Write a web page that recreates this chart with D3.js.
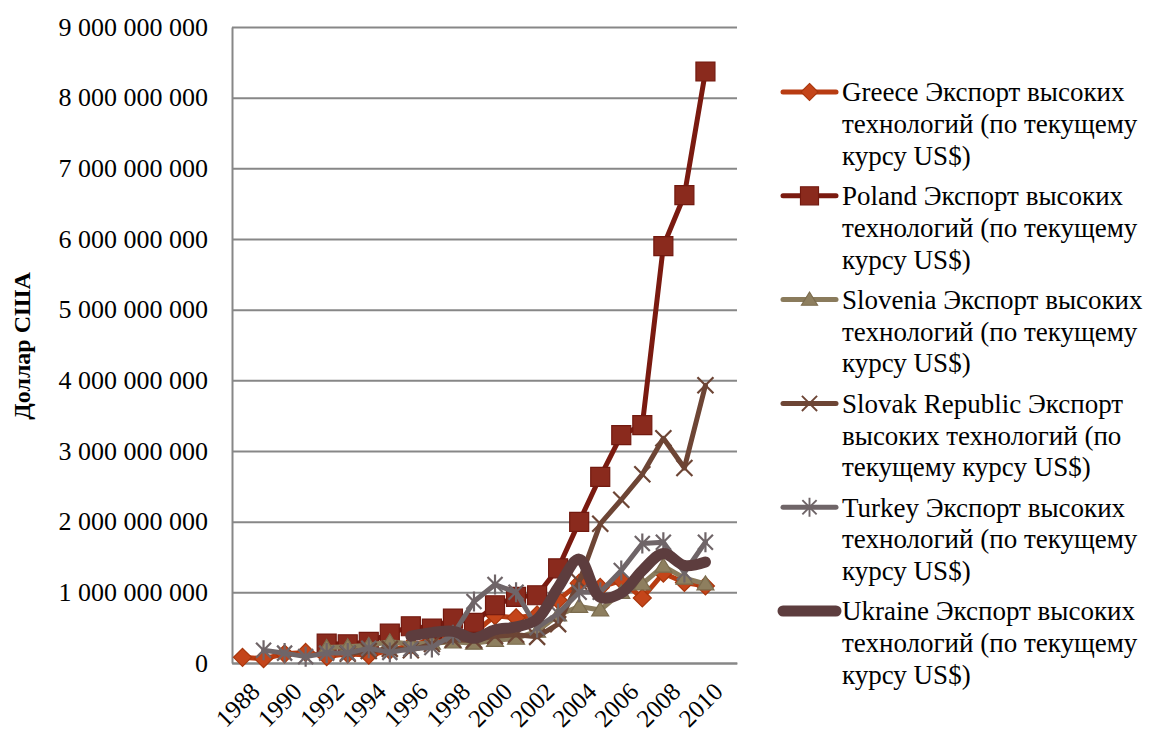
<!DOCTYPE html>
<html><head><meta charset="utf-8">
<script src="https://cdn.jsdelivr.net/npm/d3@7"></script>
<style>
html,body{margin:0;padding:0;background:#fff;}
svg text{font-family:"Liberation Serif","Times New Roman",Tinos,"DejaVu Serif",serif;}
</style></head>
<body><svg id="chart" width="1158" height="735" font-family="Liberation Serif, Times New Roman, serif"></svg>
<script>
const years = d3.range(1988, 2012);
const yTicks = [0,1e9,2e9,3e9,4e9,5e9,6e9,7e9,8e9,9e9];
const xTickLabels = [1988,1990,1992,1994,1996,1998,2000,2002,2004,2006,2008,2010];
const yTitle = "Доллар США";

const greece   = [0.08,0.06,0.13,0.15,0.09,0.13,0.11,0.18,0.25,0.33,0.38,0.42,0.67,0.64,0.68,0.89,1.13,1.07,1.17,0.92,1.27,1.14,1.09,null];
const poland   = [null,null,null,null,0.275,0.265,0.30,0.416,0.52,0.487,0.629,0.567,0.817,0.935,0.959,1.34,1.997,2.635,3.225,3.366,5.90,6.62,8.37,null];
const slovenia = [null,null,null,null,0.22,0.23,0.25,0.30,0.27,0.28,0.30,0.28,0.32,0.35,0.45,0.68,0.80,0.75,1.0,1.12,1.37,1.2,1.12,null];
const slovak   = [null,null,null,null,null,0.13,0.17,0.20,0.18,0.27,0.33,0.32,0.38,0.40,0.37,0.55,1.15,1.97,2.31,2.67,3.18,2.76,3.93,null];
const turkey   = [null,0.18,0.14,0.09,0.14,0.14,0.21,0.15,0.20,0.22,0.40,0.87,1.11,1.0,0.50,0.70,1.0,1.0,1.31,1.69,1.71,1.28,1.71,null];
const ukraine  = [null,null,null,null,null,null,null,null,0.38,0.43,0.45,0.35,0.47,0.51,0.62,1.07,1.47,0.93,0.99,1.31,1.55,1.38,1.43,null];

const seriesNames = ["Greece","Poland","Slovenia","Slovak Republic","Turkey","Ukraine"];
const legendLines = [
  ["Greece Экспорт высоких","технологий (по текущему","курсу US$)"],
  ["Poland Экспорт высоких","технологий (по текущему","курсу US$)"],
  ["Slovenia Экспорт высоких","технологий (по текущему","курсу US$)"],
  ["Slovak Republic Экспорт","высоких технологий (по","текущему курсу US$)"],
  ["Turkey Экспорт высоких","технологий (по текущему","курсу US$)"],
  ["Ukraine Экспорт высоких","технологий (по текущему","курсу US$)"]
];
const seriesValues = [greece, poland, slovenia, slovak, turkey, ukraine];

const FONT = "Liberation Serif, Times New Roman, serif";

const styles = [
  {line:"#B83C12", width:5, marker:"diamond", fill:"#C4451A", stroke:"#A8360C"},
  {line:"#7A1A10", width:5, marker:"square", fill:"#8A2A1D", stroke:"#72190F"},
  {line:"#8A7B5C", width:5, marker:"triangle", fill:"#8E7F5F", stroke:"#7B6C4E"},
  {line:"#6D4535", width:5, marker:"x", fill:"none", stroke:"#6D4535"},
  {line:"#6F6568", width:5, marker:"asterisk", fill:"none", stroke:"#6F6568"},
  {line:"#5D3D3E", width:11, marker:null, fill:"none", stroke:"none", smooth:true}
];

const markerPaths = {
  diamond: "M0,-9L9,0L0,9L-9,0Z",
  square: "M-9.5,-9.5h19v19h-19Z",
  triangle: "M0,-8L8.5,6L-8.5,6Z",
  x: "M-8,-8L8,8M-8,8L8,-8",
  asterisk: "M-7.5,-7.5L7.5,7.5M-7.5,7.5L7.5,-7.5M0,-10L0,10"
};

const svg = d3.select("#chart");
const L = 232, R = 737, T = 27, B = 663;
const x = d3.scaleBand().domain(years).range([L, R]).padding(0);
const cx = yr => x(yr) + x.bandwidth()/2;
const y = d3.scaleLinear().domain([0, 9e9]).range([B, T]);

// gridlines
svg.append("g").attr("transform", `translate(${L},0)`)
  .call(d3.axisLeft(y).tickValues(yTicks).tickSize(-(R-L)).tickFormat(""))
  .call(g => g.select(".domain").remove())
  .call(g => g.selectAll("line").attr("stroke", "#878787").attr("stroke-width", 2));

// y axis labels
const fmt = v => d3.format(",")(v).replace(/,/g, " ");
svg.append("g").attr("transform", `translate(${L},0)`)
  .call(d3.axisLeft(y).tickValues(yTicks).tickSize(0).tickPadding(24).tickFormat(fmt))
  .attr("font-family", FONT).attr("font-size", 26)
  .call(g => g.select(".domain").attr("stroke", "#878787").attr("stroke-width", 2))
  .call(g => g.selectAll("text").attr("font-size", 26).attr("fill", "#000")
      .attr("font-family", FONT));

// x axis
const hb = x.bandwidth()/2;
svg.append("g").attr("transform", `translate(0,${B})`)
  .call(d3.axisBottom(x).tickValues(xTickLabels).tickSize(0).tickFormat(d3.format("d")))
  .attr("font-family", FONT).attr("font-size", 25)
  .call(g => g.select(".domain").attr("stroke", "#878787").attr("stroke-width", 2))
  .call(g => g.selectAll("text")
      .attr("font-size", 25).attr("fill", "#000").attr("font-family", FONT)
      .attr("text-anchor", "end")
      .attr("x", 3).attr("y", 0).attr("dy", "0.35em")
      .attr("transform", `translate(${hb},26) rotate(-45)`));

// y title
svg.append("text")
  .attr("transform", `translate(30,346) rotate(-90)`)
  .attr("text-anchor", "middle").attr("font-family", FONT)
  .attr("font-size", 24).attr("font-weight", "bold").attr("fill", "#000")
  .text(yTitle);

// series
seriesValues.forEach((vals, i) => {
  const st = styles[i];
  const pts = years.map((yr, j) => ({yr, v: vals[j]})).filter(d => d.v != null);
  const line = d3.line().x(d => cx(d.yr)).y(d => y(d.v * 1e9));
  if (st.smooth) line.curve(d3.curveCatmullRom.alpha(0.5));
  const g = svg.append("g");
  g.append("path").datum(pts).attr("d", line)
    .attr("fill", "none").attr("stroke", st.line).attr("stroke-width", st.width)
    .attr("stroke-linejoin", "round").attr("stroke-linecap", "round");
  if (st.marker) {
    g.selectAll("path.m").data(pts).join("path").attr("class", "m")
      .attr("d", markerPaths[st.marker])
      .attr("transform", d => `translate(${cx(d.yr)},${y(d.v * 1e9)})`)
      .attr("fill", st.fill).attr("stroke", st.stroke)
      .attr("stroke-width", (st.marker === "x" || st.marker === "asterisk") ? 2.2 : 1.2);
  }
});

// legend
const lg = svg.append("g");
legendLines.forEach((lines, i) => {
  const st = styles[i];
  const yy = 92 + i * 103.8;
  lg.append("line").attr("x1", 783).attr("x2", 836).attr("y1", yy).attr("y2", yy)
    .attr("stroke", st.line).attr("stroke-width", st.width).attr("stroke-linecap", "round");
  if (st.marker) {
    lg.append("path").attr("d", markerPaths[st.marker])
      .attr("transform", `translate(809.5,${yy}) scale(0.95)`)
      .attr("fill", st.fill).attr("stroke", st.stroke)
      .attr("stroke-width", (st.marker === "x" || st.marker === "asterisk") ? 2 : 1.2);
  }
  const t = lg.append("text").attr("x", 842).attr("y", yy)
    .attr("font-size", 27).attr("fill", "#000").attr("font-family", FONT);
  lines.forEach((ln, k) => {
    t.append("tspan").attr("x", 842).attr("dy", k === 0 ? "0.35em" : 31.7).text(ln);
  });
});
</script></body></html>
